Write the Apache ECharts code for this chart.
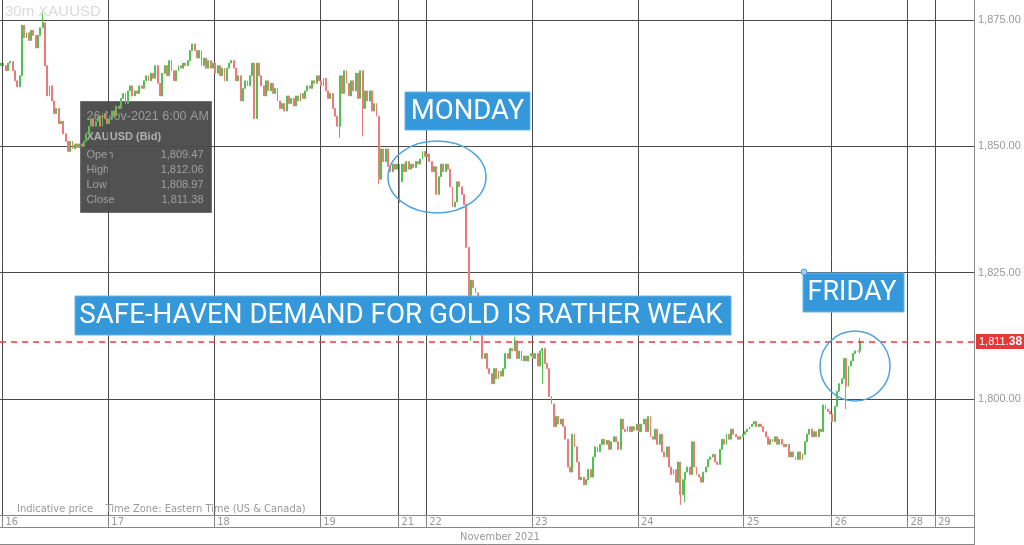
<!DOCTYPE html>
<html><head><meta charset="utf-8">
<script src="https://cdn.jsdelivr.net/npm/echarts@6/dist/echarts.min.js"></script>
<style>html,body{margin:0;padding:0;background:#fff}#c{width:1024px;height:545px}</style>
</head><body><div id="c"></div>
<script>
// ---- data (30-minute XAUUSD bid closes) ----
const firstOpen = 1866.0;
const d15 = [1866.5];
const d16 = [1866.0,1865.0,1866.5,1866.8,1865.0,1863.0,1861.8,1864.0,1874.0,1871.5,
 1872.5,1871.0,1873.0,1872.0,1869.5,1872.0,1873.5,1874.5,1866.0,1860.0,
 1862.0,1859.0,1856.5,1857.5,1854.5,1855.0,1852.5,1851.0,1849.0,1851.0,
 1849.5,1850.5,1849.8,1850.5,1850.0,1851.0,1852.5,1854.0,1855.5,1854.0,
 1855.0,1856.0,1854.0,1856.5,1855.5,1854.5];
const d17 = [1855.5,1857.0,1856.0,1858.0,1857.5,1859.5,1860.5,1858.5,1861.0,1862.0,
 1860.0,1861.0,1860.5,1862.0,1861.5,1863.0,1864.0,1863.0,1864.5,1863.5,
 1866.0,1862.5,1860.0,1864.5,1866.0,1864.0,1867.0,1865.0,1863.0,1865.0,
 1866.0,1865.5,1866.5,1866.0,1867.0,1869.0,1870.3,1869.0,1867.5,1869.0,
 1866.0,1867.5,1865.5,1867.0,1865.5,1866.5];
const d18 = [1864.5,1866.0,1864.0,1865.5,1863.0,1865.5,1866.5,1867.0,1865.5,1863.0,
 1864.0,1859.0,1861.5,1863.0,1862.0,1864.0,1866.5,1855.5,1866.5,1864.0,
 1862.0,1860.0,1863.0,1861.0,1862.5,1860.5,1861.5,1859.0,1857.5,1858.5,
 1857.0,1860.0,1858.5,1859.5,1858.0,1860.0,1859.0,1860.5,1859.5,1861.0,
 1862.0,1861.5,1863.0,1862.5,1864.0,1863.0];
const d19 = [1862.0,1863.5,1861.0,1859.5,1860.5,1857.5,1856.0,1854.0,1864.0,1860.5,
 1865.0,1862.5,1860.0,1863.0,1861.0,1864.5,1859.5,1865.0,1857.5,1861.0,
 1859.0,1861.0,1857.0,1858.5,1856.0,1843.5,1849.5,1847.0,1849.5,1846.0,
 1845.0,1846.5,1845.5,1846.5];
const d21 = [1843.0,1846.5,1845.0,1847.0,1845.5,1846.5,1845.8,1847.0,1846.5,1847.5,1849.0,1848.0];
const d22 = [1848.5,1847.0,1845.0,1846.0,1840.5,1844.0,1846.5,1845.0,1846.5,1845.5,
 1842.0,1838.0,1839.0,1843.0,1842.0,1840.5,1838.5,1830.0,1820.0,1823.5,
 1822.0,1821.0,1819.5,1816.0,1808.0,1809.0,1806.0,1805.0,1803.0,1806.0,
 1804.0,1805.5,1804.5,1806.0,1809.0,1808.0,1810.0,1809.5,1811.5,1808.0,
 1809.5,1807.5,1808.5,1807.5,1808.5,1809.0];
const d23 = [1808.0,1809.0,1806.5,1809.5,1810.0,1807.0,1806.0,1800.5,1799.0,1794.5,
 1796.5,1795.0,1796.0,1794.5,1792.0,1786.5,1785.5,1793.0,1790.5,1787.5,
 1784.0,1784.5,1783.0,1784.0,1786.0,1784.5,1788.5,1790.5,1789.5,1791.0,
 1792.0,1791.0,1791.8,1790.0,1791.5,1792.5,1791.5,1790.0,1796.0,1794.0,
 1793.5,1794.5,1793.5,1794.5,1793.8,1795.0];
const d24 = [1793.5,1795.0,1796.0,1793.5,1796.5,1792.5,1792.0,1794.0,1791.0,1793.0,
 1789.5,1788.5,1790.5,1786.5,1785.0,1786.0,1783.5,1787.5,1781.0,1784.0,
 1785.5,1786.5,1785.0,1791.5,1786.5,1785.0,1784.5,1783.5,1785.5,1786.5,
 1788.0,1788.5,1789.0,1787.5,1787.0,1790.0,1792.0,1791.0,1793.0,1792.0,
 1794.0,1793.0,1792.5,1792.0,1792.5,1793.0];
const d25 = [1793.5,1794.0,1794.5,1795.0,1795.5,1794.5,1795.0,1794.5,1793.5,1792.5,
 1791.0,1792.0,1791.5,1792.5,1791.0,1792.0,1791.0,1790.5,1791.0,1788.5,
 1789.5,1788.5,1788.0,1789.5,1788.0,1789.0,1791.5,1793.0,1794.0,1792.5,
 1793.5,1792.5,1794.0,1793.5,1798.8,1798.0,1797.5,1797.0];
const d26 = [1795.5,1798.5,1801.5,1803.0,1804.0,1808.0,1802.5,1806.5,1807.5,1809.0,1809.5,1809.47,1811.38];

// session days shown on the axis and their 30-minute slots
const dayLabels = ['15','16','17','18','19','21','22','23','24','25','26','28','29'];
const daySlots  = [1,46,46,46,34,12,46,46,46,38,33,12,17];
const dayCloses = [d15,d16,d17,d18,d19,d21,d22,d23,d24,d25,d26,[],[]];
// long wicks: [day, slot, low, high]
const wicks = [
 ['16',17,null,1876.4],['19',8,1851.7,null],['19',18,1852.0,null],['19',25,1842.5,null],
 ['21',0,1838.8,null],['22',18,1818.0,null],['22',19,1811.5,null],['22',38,null,1812.3],
 ['23',4,1803.0,null],['24',18,1779.0,null],['24',20,1779.5,null],['26',6,1798.0,null],
 ['26',12,1808.97,1812.06]
];
const yTicks = [1800,1825,1850,1875];
const monthLabel = 'November 2021';
const tipTime = '26-Nov-2021 6:00 AM';

// ---- build ----
const categories = [], candles = [];
let prev = firstOpen;
dayLabels.forEach((d, di) => {
  for (let k = 0; k < daySlots[di]; k++) {
    categories.push(d + '|' + k);
    const c = dayCloses[di][k];
    if (c === undefined) continue;
    const o = prev;
    let lo = Math.min(o, c), hi = Math.max(o, c);
    const w = wicks.find(x => x[0] === d && x[1] === k);
    if (w) { if (w[2] != null) lo = Math.min(lo, w[2]); if (w[3] != null) hi = Math.max(hi, w[3]); }
    candles.push([o, c, lo, hi]);
    prev = c;
  }
});
const last = candles[candles.length - 1];
const fmt = v => v.toLocaleString('en-US', {minimumFractionDigits: 2, maximumFractionDigits: 2});
const isDayStart = (i, v) => { const p = String(v).split('|'); return p[1] === '0' && p[0] !== '15'; };
const NARROW = 'Liberation Sans Narrow, DejaVu Sans Condensed, sans-serif';
const SANS = 'Liberation Sans, Arial, sans-serif';
const lastStr = fmt(last[1]);
const dot = lastStr.indexOf('.');
const RED = '#f0383e';

const chart = echarts.init(document.getElementById('c'), null, {renderer: 'canvas'});
const grid = '#4a4a4a';
chart.setOption({
  animation: false,
  backgroundColor: '#fff',
  grid: {left: 0, right: 50, top: 0, bottom: 30},
  xAxis: {
    type: 'category', data: categories, boundaryGap: true,
    axisLine: {show: true, lineStyle: {color: '#888'}},
    axisTick: {show: true, interval: isDayStart, length: 12, lineStyle: {color: '#888'}},
    axisLabel: {show: true, interval: isDayStart, formatter: v => v.split('|')[0],
      align: 'left', color: '#999', fontSize: 11, fontFamily: NARROW, margin: 2, padding: [0, 0, 0, 2]},
    splitLine: {show: true, interval: isDayStart, lineStyle: {color: grid, width: 1}}
  },
  yAxis: {
    type: 'value', position: 'right', min: 1777, max: 1879, scale: true,
    axisLine: {show: true, lineStyle: {color: '#888'}},
    axisTick: {show: false}, axisLabel: {show: false}, splitLine: {show: false}
  },
  series: [{
    type: 'candlestick', data: candles, barWidth: 1.4,
    itemStyle: {color: '#4fc24f', color0: '#f07878', borderColor: '#4fc24f', borderColor0: '#f07878', borderWidth: 1},
    markLine: {
      silent: true, symbol: ['none', 'none'], z: 1, animation: false,
      data: yTicks.map(v => ({yAxis: v, lineStyle: {color: grid, width: 1, type: 'solid'},
        label: {show: true, position: 'end', distance: 4, formatter: fmt(v), color: '#999', fontSize: 11, fontFamily: SANS}}))
    }
  }, {
    type: 'line', data: [], color: RED, silent: true, itemStyle: {color: RED}, lineStyle: {color: RED},
    markLine: {
      silent: true, symbol: ['none', 'none'], animation: false,
      lineStyle: {color: RED, width: 1.6, type: [6, 5], opacity: 1},
      data: [{yAxis: last[1],
        label: {show: true, position: 'end', distance: 2, backgroundColor: '#e53935', padding: [2, 2, 1, 3],
          formatter: '{a|' + lastStr.slice(0, dot + 1) + '}{b|' + lastStr.slice(dot + 1) + '}',
          rich: {a: {color: '#fff', fontSize: 11, fontFamily: SANS}, b: {color: '#fff', fontSize: 12, fontWeight: 'bold', fontFamily: SANS}}}}]
    }
  }],
  graphic: [
    {type: 'text', left: 5, top: 4, z: 10, style: {text: '30m XAUUSD', fill: '#dadada', font: '15px ' + SANS}},
    {type: 'group', left: 80, top: 101, z: 20, children: [
      {type: 'rect', shape: {x: 0, y: 0, width: 131, height: 111}, style: {fill: 'rgba(48,48,48,0.84)', stroke: '#707070', lineWidth: 1}},
      {type: 'text', x: 6, y: 9, style: {text: tipTime, fill: '#9a9a9a', font: '12.5px ' + SANS}},
      {type: 'text', x: 6, y: 30, style: {text: 'XAUUSD (Bid)', fill: '#b0b0b0', font: 'bold 11px ' + SANS}},
      {type: 'text', x: 6, y: 48, style: {text: 'Open', fill: '#a0a0a0', font: '11px ' + SANS}},
      {type: 'text', x: 6, y: 63, style: {text: 'High', fill: '#a0a0a0', font: '11px ' + SANS}},
      {type: 'text', x: 6, y: 78, style: {text: 'Low', fill: '#a0a0a0', font: '11px ' + SANS}},
      {type: 'text', x: 6, y: 93, style: {text: 'Close', fill: '#a0a0a0', font: '11px ' + SANS}},
      {type: 'text', x: 123, y: 48, style: {text: fmt(last[0]), align: 'right', fill: '#a0a0a0', font: '11px ' + SANS}},
      {type: 'text', x: 123, y: 63, style: {text: fmt(last[3]), align: 'right', fill: '#a0a0a0', font: '11px ' + SANS}},
      {type: 'text', x: 123, y: 78, style: {text: fmt(last[2]), align: 'right', fill: '#a0a0a0', font: '11px ' + SANS}},
      {type: 'text', x: 123, y: 93, style: {text: fmt(last[1]), align: 'right', fill: '#a0a0a0', font: '11px ' + SANS}}
    ]},
    {type: 'rect', z: 30, shape: {x: 405, y: 92, width: 125, height: 38}, style: {fill: '#3498db', stroke: '#6ab4e6', lineWidth: 1}},
    {type: 'text', z: 31, x: 467.5, y: 112, style: {text: 'MONDAY', fill: '#fff', font: '27.5px Roboto', align: 'center', verticalAlign: 'middle'}},
    {type: 'rect', z: 30, shape: {x: 75, y: 296, width: 656, height: 39}, style: {fill: '#3498db', stroke: '#6ab4e6', lineWidth: 1}},
    {type: 'text', z: 31, x: 401, y: 316, style: {text: 'SAFE-HAVEN DEMAND FOR GOLD IS RATHER WEAK', fill: '#fff', font: '27.7px Roboto', align: 'center', verticalAlign: 'middle'}},
    {type: 'rect', z: 30, shape: {x: 803, y: 273, width: 101, height: 39}, style: {fill: '#3498db', stroke: '#6ab4e6', lineWidth: 1}},
    {type: 'text', z: 31, x: 852, y: 293, style: {text: 'FRIDAY', fill: '#fff', font: '27px Roboto', align: 'center', verticalAlign: 'middle'}},
    {type: 'ellipse', z: 30, shape: {cx: 437, cy: 177, rx: 49, ry: 36}, style: {fill: 'none', stroke: '#4ea4e0', lineWidth: 1.5}},
    {type: 'ellipse', z: 30, shape: {cx: 855, cy: 366, rx: 35, ry: 35}, style: {fill: 'none', stroke: '#4ea4e0', lineWidth: 1.5}},
    {type: 'circle', z: 32, shape: {cx: 804, cy: 272, r: 3}, style: {fill: '#9fd0f0', stroke: '#4ea4e0', lineWidth: 1}},
    {type: 'text', z: 10, x: 17, y: 509, style: {text: 'Indicative price    Time Zone: Eastern Time (US & Canada)', fill: '#999', font: '11px ' + NARROW, verticalAlign: 'middle'}},
    {type: 'line', z: 10, shape: {x1: 0, y1: 527.5, x2: 974.5, y2: 527.5}, style: {stroke: '#888', lineWidth: 1}},
    {type: 'line', z: 10, shape: {x1: 0, y1: 544.5, x2: 974.5, y2: 544.5}, style: {stroke: '#888', lineWidth: 1}},
    {type: 'line', z: 10, shape: {x1: 974.5, y1: 515, x2: 974.5, y2: 545}, style: {stroke: '#888', lineWidth: 1}},
    {type: 'text', z: 10, x: 500, y: 537, style: {text: monthLabel, fill: '#999', font: '11px ' + NARROW, align: 'center', verticalAlign: 'middle'}}
  ]
});
</script></body></html>
